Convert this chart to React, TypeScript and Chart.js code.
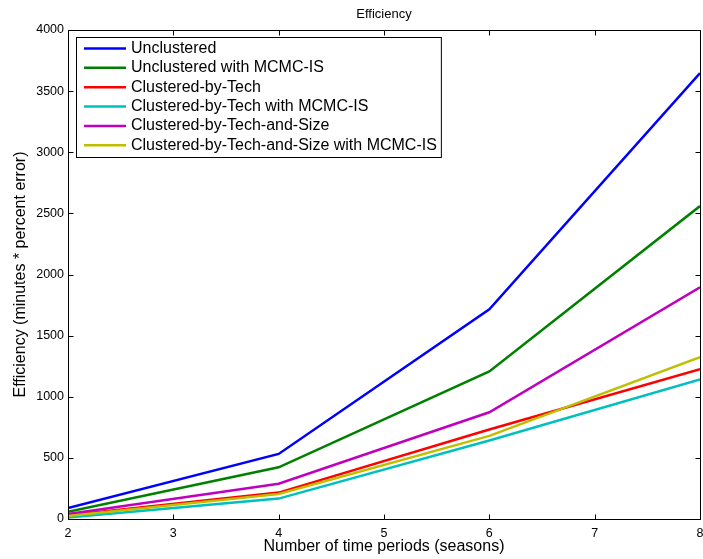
import React, { useEffect, useRef } from "react";
import { Chart, registerables } from "chart.js";

Chart.register(...registerables);

const FONT = "'Liberation Sans', Arial, Helvetica, sans-serif";

const periods = [2, 4, 6, 8];
const unclustered = [90, 532, 1716, 3647];
const unclusteredMCMC = [60, 423, 1207, 2560];
const clusteredTech = [30, 216, 732, 1226];
const clusteredTechMCMC = [12, 167, 642, 1142];
const clusteredTechSize = [40, 289, 873, 1896];
const clusteredTechSizeMCMC = [25, 204, 680, 1323];

const seriesLabels = [
  "Unclustered",
  "Unclustered with MCMC-IS",
  "Clustered-by-Tech",
  "Clustered-by-Tech with MCMC-IS",
  "Clustered-by-Tech-and-Size",
  "Clustered-by-Tech-and-Size with MCMC-IS",
];
const seriesValues = [
  unclustered,
  unclusteredMCMC,
  clusteredTech,
  clusteredTechMCMC,
  clusteredTechSize,
  clusteredTechSizeMCMC,
];
const seriesColors = ["#0000ff", "#008000", "#ff0000", "#00bfbf", "#bf00bf", "#bfbf00"];

const xTicks = [2, 3, 4, 5, 6, 7, 8];
const yTicks = [0, 500, 1000, 1500, 2000, 2500, 3000, 3500, 4000];

const titleText = "Efficiency";
const xTitle = "Number of time periods (seasons)";
const yTitle = "Efficiency (minutes * percent error)";

const boxPlugin = {
  id: "matlabBox",
  afterDraw(chart: any) {
    const { ctx, chartArea: a, scales } = chart;
    const L = Math.round(a.left) + 0.5;
    const R = Math.round(a.right) + 0.5;
    const T = Math.round(a.top) + 0.5;
    const B = Math.round(a.bottom) + 0.5;
    ctx.save();
    ctx.strokeStyle = "#000";
    ctx.lineWidth = 1;
    ctx.beginPath();
    ctx.rect(L, T, R - L, B - T);
    ctx.stroke();
    const tl = 5;
    ctx.beginPath();
    for (const v of xTicks) {
      const x = Math.round(scales.x.getPixelForValue(v)) + 0.5;
      ctx.moveTo(x, B);
      ctx.lineTo(x, B - tl);
      ctx.moveTo(x, T);
      ctx.lineTo(x, T + tl);
    }
    for (const v of yTicks) {
      const y = Math.round(scales.y.getPixelForValue(v)) + 0.5;
      ctx.moveTo(L, y);
      ctx.lineTo(L + tl, y);
      ctx.moveTo(R, y);
      ctx.lineTo(R - tl, y);
    }
    ctx.stroke();

    // legend
    ctx.font = `16px ${FONT}`;
    const ds = chart.data.datasets;
    let maxW = 0;
    for (const d of ds) maxW = Math.max(maxW, ctx.measureText(d.label).width);
    const bx = Math.round(a.left) + 8;
    const by = Math.round(a.top) + 7;
    const bw = 55 + maxW + 4;
    const bh = 120;
    ctx.fillStyle = "#fff";
    ctx.fillRect(bx, by, bw, bh);
    ctx.strokeStyle = "#000";
    ctx.lineWidth = 1;
    ctx.strokeRect(bx + 0.5, by + 0.5, bw, bh);
    ds.forEach((d: any, i: number) => {
      const cy = by + 11.5 + i * 19.35;
      ctx.strokeStyle = d.borderColor;
      ctx.lineWidth = 2.5;
      ctx.beginPath();
      ctx.moveTo(bx + 8, cy);
      ctx.lineTo(bx + 50, cy);
      ctx.stroke();
      ctx.fillStyle = "#000";
      ctx.textBaseline = "middle";
      ctx.textAlign = "left";
      ctx.fillText(d.label, bx + 55, cy);
    });
    ctx.restore();
  },
};

export default function App() {
  const ref = useRef<HTMLCanvasElement>(null);
  useEffect(() => {
    if (!ref.current) return;
    const datasets = seriesLabels.map((label, i) => ({
      label,
      data: periods.map((p, j) => ({ x: p, y: seriesValues[i][j] })),
      borderColor: seriesColors[i],
      backgroundColor: seriesColors[i],
      borderWidth: 2.5,
      pointRadius: 0,
      fill: false,
      tension: 0,
      order: seriesLabels.length - 1 - i,
    }));
    const chart = new Chart(ref.current, {
      type: "line",
      data: { datasets },
      options: {
        animation: false,
        responsive: false,
        devicePixelRatio: 1,
        layout: { padding: { left: 0, right: 3, top: 0, bottom: 0 } },
        plugins: {
          legend: { display: false },
          tooltip: { enabled: false },
          title: {
            display: true,
            text: titleText,
            fullSize: false,
            color: "#000",
            font: { family: FONT, size: 13, weight: "normal", lineHeight: 1.2 },
            padding: { top: 7, bottom: 7.4 },
          },
        },
        scales: {
          x: {
            type: "linear",
            min: 2,
            max: 8,
            grid: { display: false, drawTicks: false, tickLength: 0 },
            border: { display: false },
            ticks: {
              stepSize: 1,
              color: "#000",
              padding: 7,
              font: { family: FONT, size: 12.5 },
              maxRotation: 0,
              callback: (v: any) => String(v),
            },
            title: {
              display: true,
              text: xTitle,
              color: "#000",
              font: { family: FONT, size: 16, lineHeight: 1 },
              padding: { top: 0, bottom: 4 },
            },
            afterFit(scale: any) {
              scale.height = 40;
              scale.paddingLeft = 0;
              scale.paddingRight = 0;
            },
          },
          y: {
            type: "linear",
            min: 0,
            max: 4000,
            grid: { display: false, drawTicks: false, tickLength: 0 },
            border: { display: false },
            ticks: {
              stepSize: 500,
              color: "#000",
              padding: 4,
              font: { family: FONT, size: 12.5 },
              callback: (v: any) => String(v),
            },
            title: {
              display: true,
              text: yTitle,
              color: "#000",
              font: { family: FONT, size: 16, lineHeight: 1 },
              padding: { top: 13, bottom: 0 },
            },
            afterFit(scale: any) {
              scale.width = 68;
            },
          },
        },
      },
      plugins: [boxPlugin],
    });
    return () => chart.destroy();
  }, []);
  return (
    <div style={{ position: "absolute", left: 0, top: 0, width: 703, height: 559, background: "#fff" }}>
      <canvas ref={ref} width={703} height={559} style={{ display: "block" }} />
    </div>
  );
}
